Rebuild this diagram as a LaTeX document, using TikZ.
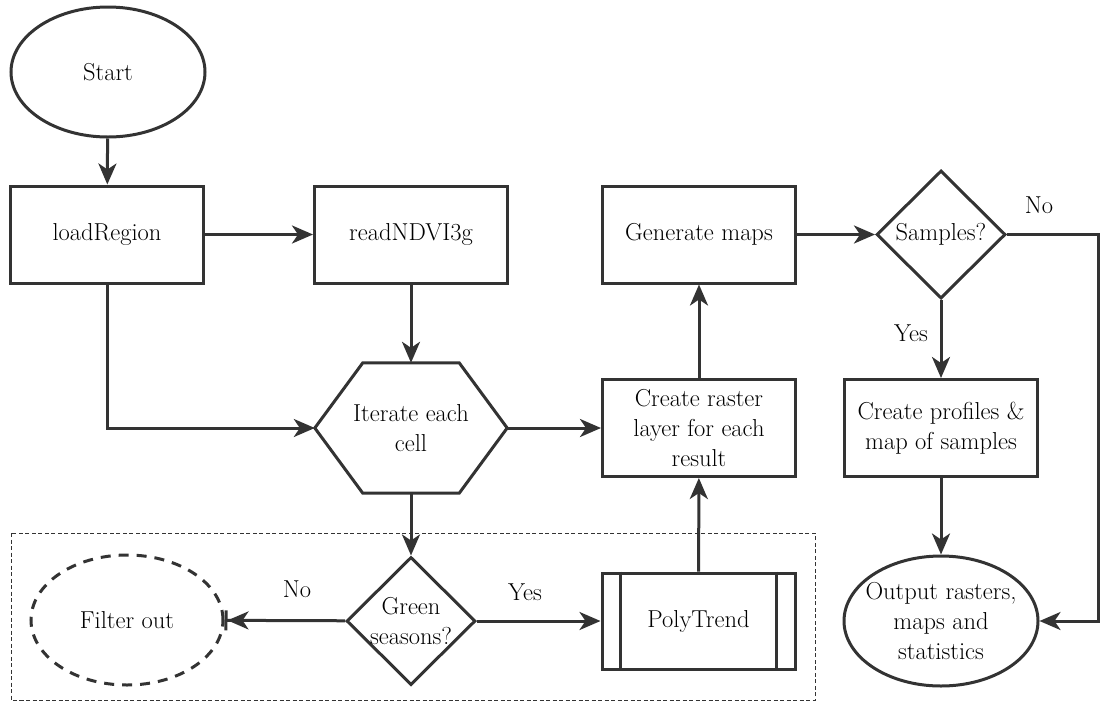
\documentclass[tikz,border=0pt]{standalone}
\usepackage{tikz}
\usetikzlibrary{shapes.geometric,arrows.meta,calc}
\definecolor{flowgray}{HTML}{333333}
\newcommand{\bw}{193}
\newcommand{\bh}{97}
\newcommand{\hexin}{48}

\tikzset{
    flowline/.style={draw=flowgray,line width=3pt},
    flowarrow/.style={flowline,-{Stealth[length=21pt,width=18pt,inset=6pt]}},
    stoparrow/.style={flowline,-{Stealth[length=21pt,width=18pt,inset=6pt]Bar[width=20pt,line width=3pt]}},
    procbox/.style={flowline,rectangle,minimum width=\bw,minimum height=\bh,align=center,inner sep=1pt},
    termin/.style={flowline,ellipse,minimum width=194,minimum height=130,align=center,inner sep=-8pt},
    decide/.style={flowline,diamond,minimum width=129,minimum height=128,align=center,inner sep=-16pt},
    loophex/.style={rectangle,minimum width=192,minimum height=130,align=center},
    groupbox/.style={draw=flowgray,line width=1pt,dash pattern=on 4pt off 2.5pt}
}

\begin{document}
\begin{tikzpicture}[x=1pt,y=-1pt,font=\fontsize{24.5}{30}\selectfont,text=black]
                    \useasboundingbox (0,0) rectangle (1100,702);
                    \draw[groupbox] (11,533) rectangle (815,700);

                    \node[termin] (start) at (108,72) {Start};
                    \node[procbox] (loadreg) at (107,234.5) {loadRegion};
                    \node[procbox] (readndvi) at (411,234.5) {readNDVI3g};
                    \node[procbox] (genmaps) at (699,234.5) {Generate maps};
                    \node[decide] (samples) at (941,234.5) {Samples?};

                    \node[loophex] (iterate) at (411,428) {Iterate each\\cell};
                    \draw[flowline] (iterate.west) -- ($(iterate.north west)+(\hexin,0)$) -- ($(iterate.north east)+(-\hexin,0)$)
                        -- (iterate.east) -- ($(iterate.south east)+(-\hexin,0)$) -- ($(iterate.south west)+(\hexin,0)$) -- cycle;
                    \node[procbox] (raster) at (699,428) {Create raster\\layer for each\\result};
                    \node[procbox] (profiles) at (941,428) {Create profiles \&\\map of samples};

                    \node[termin,dash pattern=on 10pt off 8pt,minimum width=192] (filter) at (127,620) {Filter out};
                    \node[decide] (green) at (411,621) {Green\\seasons?};
                    \node[procbox,minimum height=96] (polytrend) at (698.5,621) {PolyTrend};
                    \draw[flowline] ($(polytrend.north west)+(20,0)$) -- ($(polytrend.south west)+(20,0)$);
                    \draw[flowline] ($(polytrend.north east)+(-20,0)$) -- ($(polytrend.south east)+(-20,0)$);
                    \node[termin] (output) at (941,621) {Output rasters,\\maps and\\statistics};

                    \coordinate (bend) at (1098.5,234.5);

                    \draw[flowarrow] (start) -- (loadreg);
                    \draw[flowarrow] (loadreg) -- (readndvi);
                    \draw[flowarrow] (readndvi) -- (iterate.north);
                    \draw[flowarrow] (loadreg.south) |- (iterate.west);
                    \draw[flowarrow] (iterate.east) -- (raster);
                    \draw[flowarrow] (raster) -- (genmaps);
                    \draw[flowarrow] (genmaps) -- (samples);
                    \draw[flowarrow] (samples) -- (profiles);
                    \draw[flowarrow] (samples.east) -- (bend) |- (output.east);
                    \draw[flowarrow] (profiles) -- (output);
                    \draw[flowarrow] (iterate.south) -- (green);
                    \draw[stoparrow] (green) -- (filter);
                    \draw[flowarrow] (green) -- (polytrend);
                    \draw[flowarrow] (polytrend) -- (raster);

                    \node (nosamples) at (1039,205) {No};
                    \node (yessamples) at (911,333) {Yes};
                    \node (nogreen) at (297,589) {No};
                    \node (yesgreen) at (525,592) {Yes};
\end{tikzpicture}
\end{document}
